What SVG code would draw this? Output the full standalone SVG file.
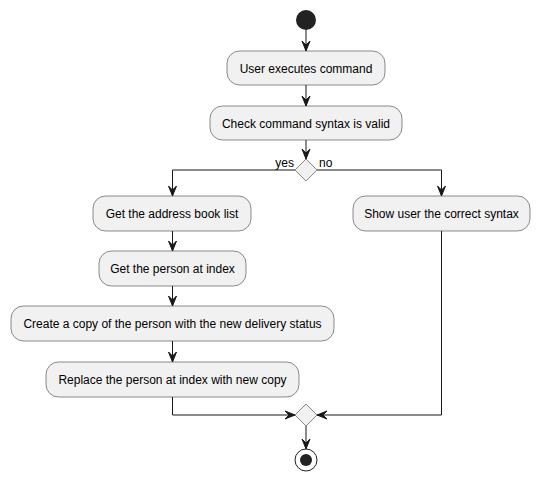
<svg xmlns="http://www.w3.org/2000/svg" width="539" height="481" viewBox="0 0 539 481">
<style>
.box{fill:#F1F1F1;stroke:#181818;stroke-width:0.5}
.t{font-family:"Liberation Sans",Arial,sans-serif;font-size:12px;fill:#000}
.l{fill:none;stroke:#181818;stroke-width:1}
.ah{fill:#181818;stroke:#181818;stroke-width:1}
</style>
<defs>
<path id="ad" d="M-4,-10 L0,0 L4,-10 L0,-6 Z"/>
</defs>
<rect width="539" height="481" fill="#FFFFFF"/>
<g id="start"><circle cx="306" cy="20" r="10" fill="#222222"/></g>
<g id="n1"><rect class="box" x="227" y="51" width="158" height="34" rx="12.5"/><text class="t" x="306" y="72.5" text-anchor="middle">User executes command</text></g>
<g id="n2"><rect class="box" x="210" y="106" width="192" height="34" rx="12.5"/><text class="t" x="306" y="127.5" text-anchor="middle">Check command syntax is valid</text></g>
<g id="d1"><polygon class="box" points="306,159 317,170 306,181 295,170"/><text class="t" x="294" y="167" text-anchor="end" font-size="11">yes</text><text class="t" x="319" y="167" font-size="11">no</text></g>
<g id="n3"><rect class="box" x="93" y="196" width="158" height="35" rx="12.5"/><text class="t" x="172" y="218" text-anchor="middle">Get the address book list</text></g>
<g id="n4"><rect class="box" x="353" y="196" width="177" height="35" rx="12.5"/><text class="t" x="441.5" y="218" text-anchor="middle">Show user the correct syntax</text></g>
<g id="n5"><rect class="box" x="99" y="251" width="147" height="35" rx="12.5"/><text class="t" x="172.5" y="273" text-anchor="middle">Get the person at index</text></g>
<g id="n6"><rect class="box" x="11" y="306" width="323" height="35" rx="12.5"/><text class="t" x="172.5" y="328" text-anchor="middle">Create a copy of the person with the new delivery status</text></g>
<g id="n7"><rect class="box" x="46" y="362" width="253" height="35" rx="12.5"/><text class="t" x="172.5" y="384" text-anchor="middle">Replace the person at index with new copy</text></g>
<g id="d2"><polygon class="box" points="306,404 317,415 306,426 295,415"/></g>
<g id="end"><circle cx="306" cy="460" r="11" fill="none" stroke="#222222" stroke-width="1"/><circle cx="306" cy="460" r="6" fill="#222222"/></g>
<g id="connectors">
<path class="l" d="M306,30 V51"/><use href="#ad" class="ah" x="306" y="51"/>
<path class="l" d="M306,85 V106"/><use href="#ad" class="ah" x="306" y="106"/>
<path class="l" d="M306,140 V159"/><use href="#ad" class="ah" x="306" y="159"/>
<path class="l" d="M295,170 H172.5 V196"/><use href="#ad" class="ah" x="172.5" y="196"/>
<path class="l" d="M317,170 H441.5 V196"/><use href="#ad" class="ah" x="441.5" y="196"/>
<path class="l" d="M172.5,231 V251"/><use href="#ad" class="ah" x="172.5" y="251"/>
<path class="l" d="M172.5,286 V306"/><use href="#ad" class="ah" x="172.5" y="306"/>
<path class="l" d="M172.5,341 V362"/><use href="#ad" class="ah" x="172.5" y="362"/>
<path class="l" d="M172.5,397 V415 H295"/><use href="#ad" class="ah" transform="translate(295,415) rotate(-90)"/>
<path class="l" d="M441.5,231 V415 H317"/><use href="#ad" class="ah" transform="translate(317,415) rotate(90)"/>
<path class="l" d="M306,426 V449"/><use href="#ad" class="ah" x="306" y="449"/>
</g>
</svg>
